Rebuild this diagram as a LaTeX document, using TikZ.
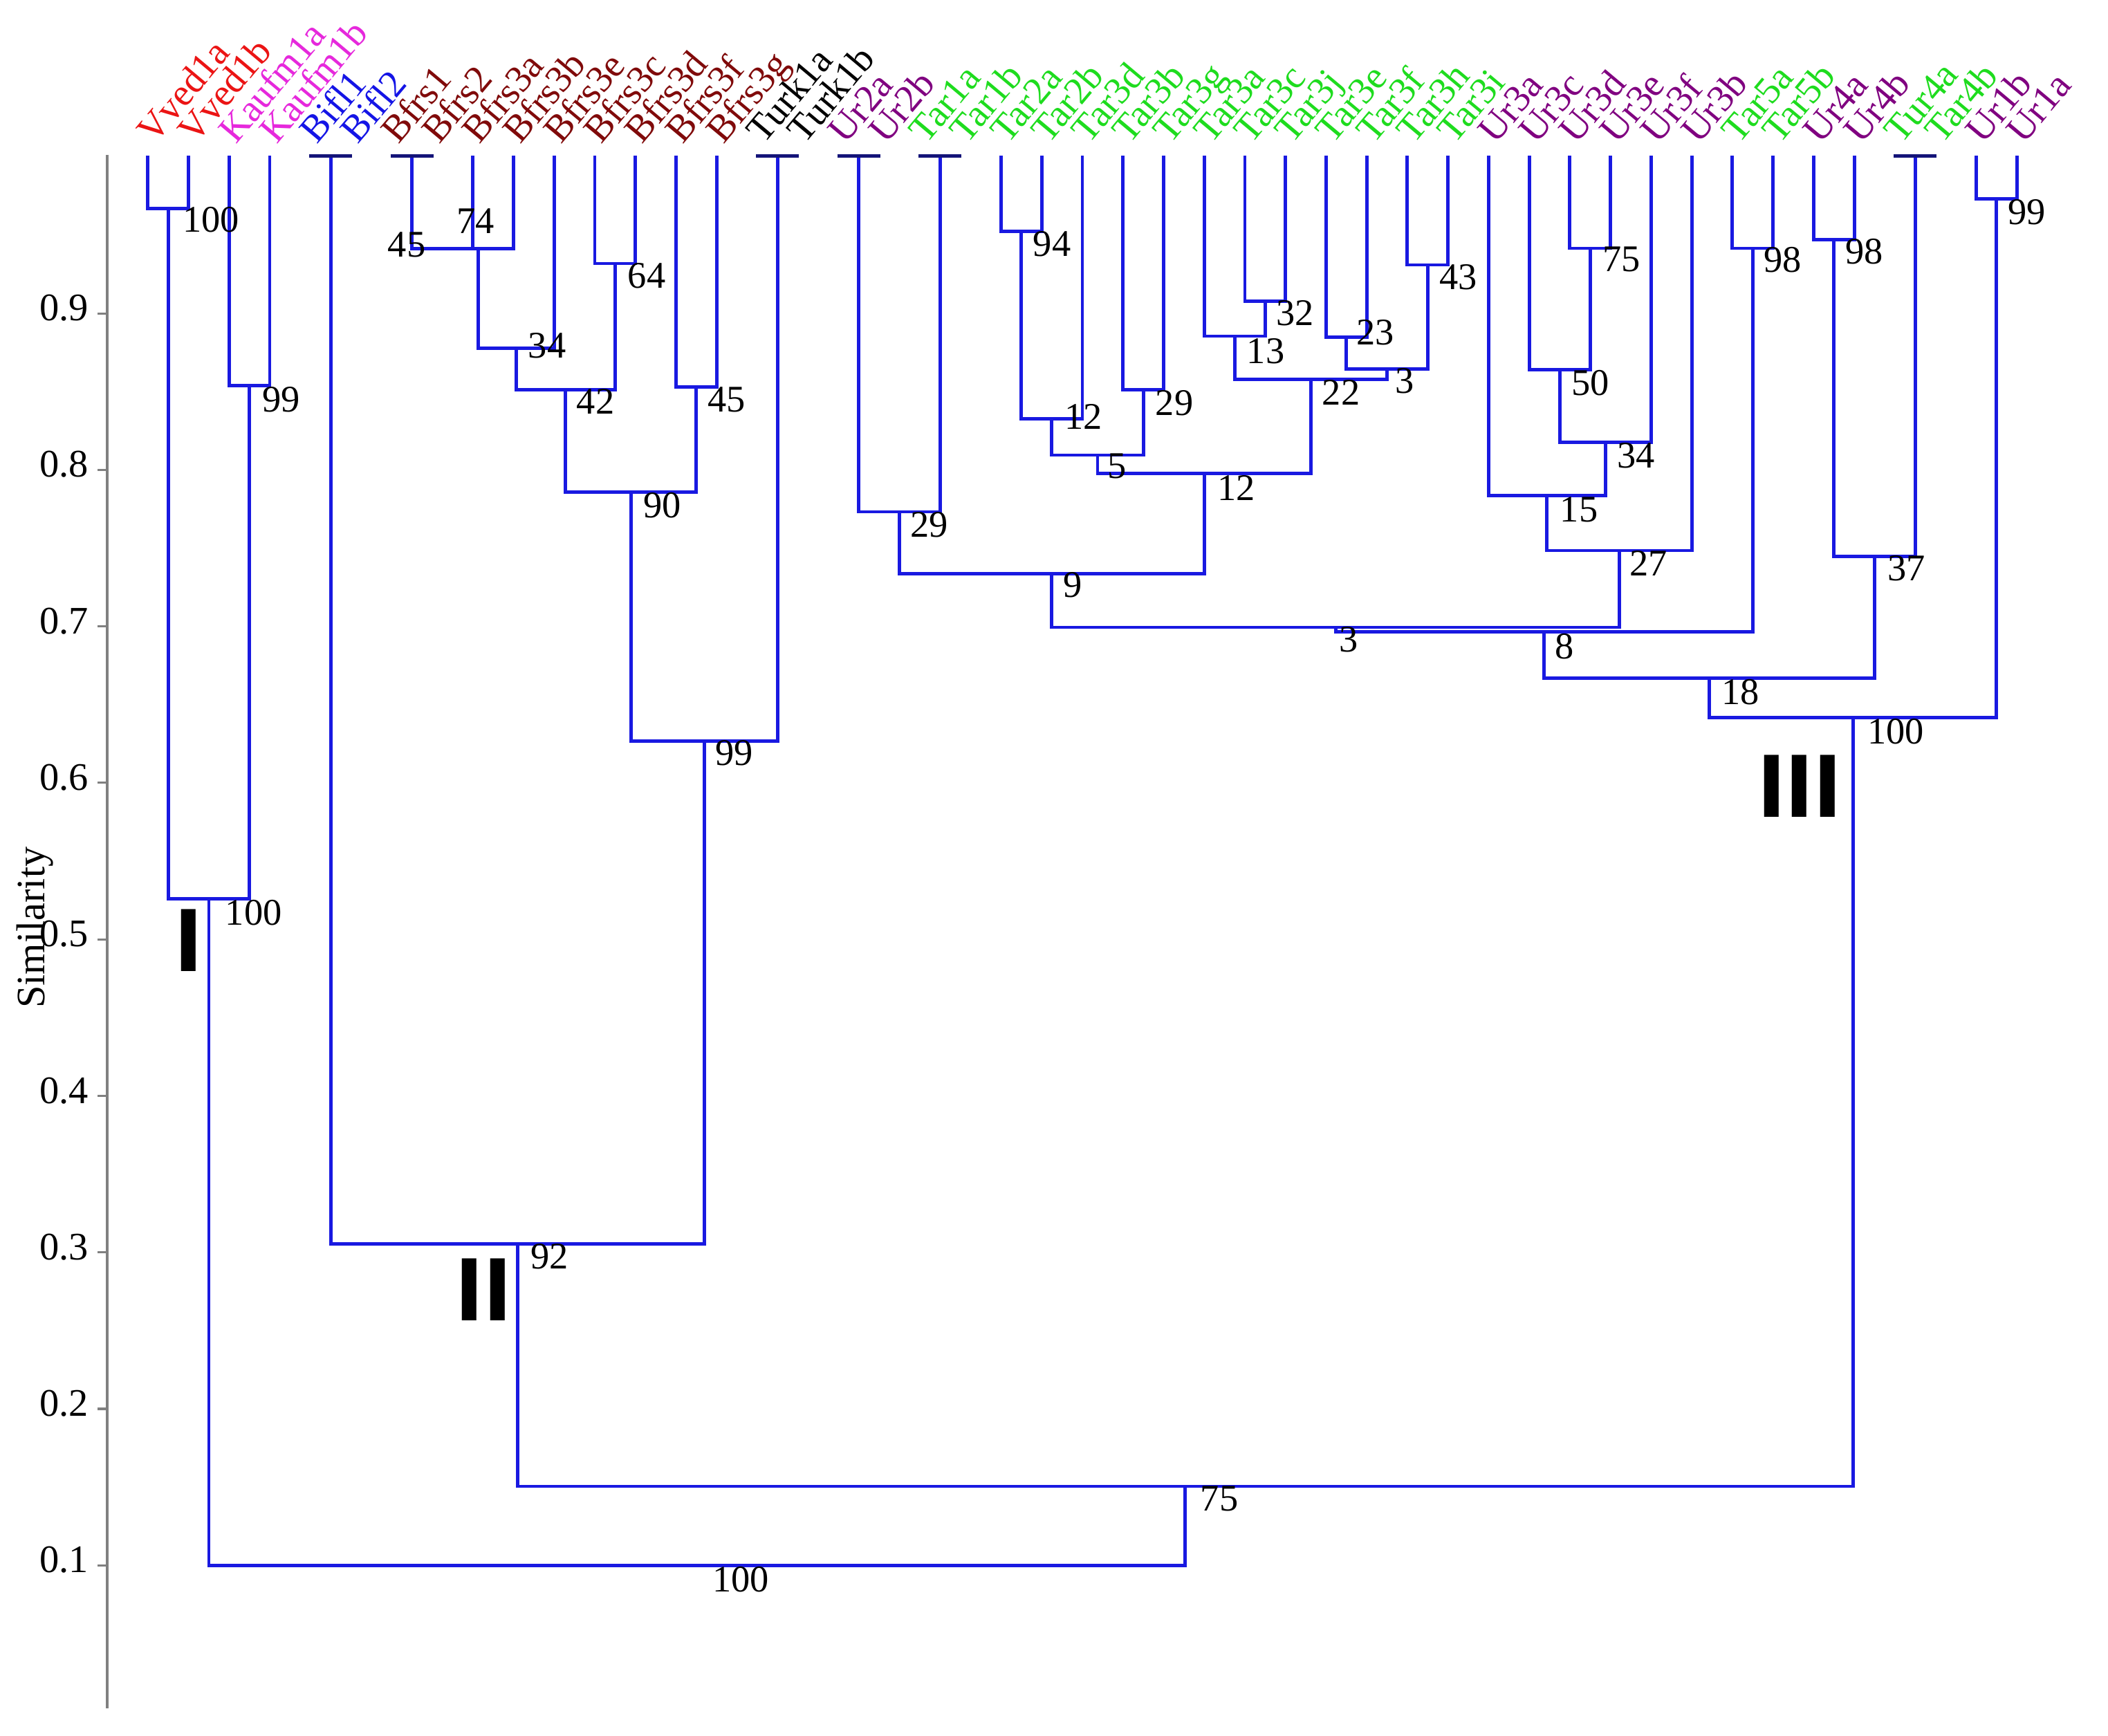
\documentclass[tikz,border=0pt]{standalone}
\usepackage{fontspec}
\setmainfont{Liberation Serif}
\newfontfamily\romfont{Liberation Sans}
\usetikzlibrary{calc}
\definecolor{edgeblue}{RGB}{25,25,225}
\definecolor{tnavy}{RGB}{20,20,120}
\definecolor{cVved}{RGB}{235,20,20}
\definecolor{cKauf}{RGB}{230,40,220}
\definecolor{cBifl}{RGB}{20,20,230}
\definecolor{cBfrs}{RGB}{128,10,10}
\definecolor{cTurk}{RGB}{0,0,0}
\definecolor{cUr}{RGB}{128,0,128}
\definecolor{cTar}{RGB}{30,220,30}
\definecolor{axisgray}{RGB}{128,128,128}
\begin{document}
\begin{tikzpicture}[x=1pt,y=-1pt,
  edge/.style={draw=edgeblue,line width=2.5pt},
  tbar/.style={draw=tnavy,line width=2.5pt},
  axisline/.style={draw=axisgray,line width=2.4pt},
  tickmark/.style={draw=axisgray,line width=1.6pt},
  leaflab/.style={rotate=50,anchor=base west,inner sep=0pt,font=\fontsize{28.5}{28.5}\selectfont},
  num/.style={inner sep=0pt,font=\fontsize{28}{28}\selectfont},
  ticklab/.style={inner sep=0pt,anchor=east,font=\fontsize{29}{29}\selectfont},
  roman/.style={inner sep=0pt,font=\romfont\bfseries\fontsize{67}{67}\selectfont,xscale=1.12},
]
\fill[white] (0,0) rectangle (1568,1291);
\useasboundingbox (0,0) rectangle (1568,1291);

% axis
\coordinate (axtop) at (79.7,115);
\coordinate (axbot) at (79.7,1270.6);
\draw[axisline] (axtop) -- (axbot);
\foreach \i/\y in {1/1164.3,2/1047.9,3/931.5,4/815.1,5/698.7,6/582.3,7/465.9,8/349.5,9/233.1} {
  \coordinate (tick\i) at (79.7,\y);
  \coordinate (tickend\i) at (72.5,\y);
  \draw[tickmark] (tick\i) -- (tickend\i);
  \node[ticklab] (tl\i) at (66,\y-4) {0.\i};
}
\node[inner sep=0pt,rotate=90,font=\fontsize{30}{30}\selectfont] (ylab) at (26,690) {Similarity};

% leaf labels
\foreach \i/\n/\c in {0/Vved1a/cVved,1/Vved1b/cVved,2/Kaufm1a/cKauf,3/Kaufm1b/cKauf,4/Bifl1/cBifl,5/Bifl2/cBifl,6/Bfrs1/cBfrs,7/Bfrs2/cBfrs,8/Bfrs3a/cBfrs,9/Bfrs3b/cBfrs,10/Bfrs3e/cBfrs,11/Bfrs3c/cBfrs,12/Bfrs3d/cBfrs,13/Bfrs3f/cBfrs,14/Bfrs3g/cBfrs,15/Turk1a/cTurk,16/Turk1b/cTurk,17/Ur2a/cUr,18/Ur2b/cUr,19/Tar1a/cTar,20/Tar1b/cTar,21/Tar2a/cTar,22/Tar2b/cTar,23/Tar3d/cTar,24/Tar3b/cTar,25/Tar3g/cTar,26/Tar3a/cTar,27/Tar3c/cTar,28/Tar3j/cTar,29/Tar3e/cTar,30/Tar3f/cTar,31/Tar3h/cTar,32/Tar3i/cTar,33/Ur3a/cUr,34/Ur3c/cUr,35/Ur3d/cUr,36/Ur3e/cUr,37/Ur3f/cUr,38/Ur3b/cUr,39/Tar5a/cTar,40/Tar5b/cTar,41/Ur4a/cUr,42/Ur4b/cUr,43/Tur4a/cTar,44/Tar4b/cTar,45/Ur1b/cUr,46/Ur1a/cUr} {
  \node[leaflab,text=\c] (lab\i) at ({115+30.22*\i},108) {\n};
}

% leaf tops
\coordinate (v0) at (110.00,116);
\coordinate (v1) at (140.22,116);
\coordinate (v2) at (170.44,116);
\coordinate (v3) at (200.66,116);
\coordinate (Tbifl) at (245.99,116);
\coordinate (Tbfrs) at (306.43,116);
\coordinate (v8) at (351.76,116);
\coordinate (v9) at (381.98,116);
\coordinate (v10) at (412.20,116);
\coordinate (v11) at (442.42,116);
\coordinate (v12) at (472.64,116);
\coordinate (v13) at (502.86,116);
\coordinate (v14) at (533.08,116);
\coordinate (Tturk) at (578.41,116);
\coordinate (Tur2) at (638.85,116);
\coordinate (Ttar1) at (699.29,116);
\coordinate (v21) at (744.62,116);
\coordinate (v22) at (774.84,116);
\coordinate (v23) at (805.06,116);
\coordinate (v24) at (835.28,116);
\coordinate (v25) at (865.50,116);
\coordinate (v26) at (895.72,116);
\coordinate (v27) at (925.94,116);
\coordinate (v28) at (956.16,116);
\coordinate (v29) at (986.38,116);
\coordinate (v30) at (1016.60,116);
\coordinate (v31) at (1046.82,116);
\coordinate (v32) at (1077.04,116);
\coordinate (v33) at (1107.26,116);
\coordinate (v34) at (1137.48,116);
\coordinate (v35) at (1167.70,116);
\coordinate (v36) at (1197.92,116);
\coordinate (v37) at (1228.14,116);
\coordinate (v38) at (1258.36,116);
\coordinate (v39) at (1288.58,116);
\coordinate (v40) at (1318.80,116);
\coordinate (v41) at (1349.02,116);
\coordinate (v42) at (1379.24,116);
\coordinate (Ttar4) at (1424.57,116);
\coordinate (v45) at (1469.90,116);
\coordinate (v46) at (1500.12,116);

% internal nodes
\coordinate (N1) at (125.11,155);
\coordinate (N2) at (185.55,287);
\coordinate (N3) at (155.33,668.5);
\coordinate (B2a) at (329.10,185);
\coordinate (B2) at (355.54,185);
\coordinate (B3) at (383.87,259);
\coordinate (B4) at (457.53,196);
\coordinate (B5) at (420.70,289.7);
\coordinate (B6) at (517.97,288);
\coordinate (B7) at (469.34,366);
\coordinate (B8) at (523.87,551);
\coordinate (B9) at (384.93,925);
\coordinate (C1) at (669.07,380.7);
\coordinate (C2) at (759.73,172);
\coordinate (C3) at (782.40,311.7);
\coordinate (C4) at (850.39,290);
\coordinate (C5) at (816.39,338.5);
\coordinate (C6) at (941.05,224);
\coordinate (C7) at (918.38,250);
\coordinate (C8) at (1001.49,251);
\coordinate (C9) at (1061.93,197);
\coordinate (C10) at (1031.71,274.5);
\coordinate (C11) at (975.05,282);
\coordinate (C12) at (895.72,352);
\coordinate (C13) at (782.40,426.5);
\coordinate (D1) at (1182.81,184.7);
\coordinate (D2) at (1160.14,275);
\coordinate (D3) at (1194.14,328.8);
\coordinate (D4) at (1150.70,368.7);
\coordinate (D5) at (1204.53,409.5);
\coordinate (D6) at (993.46,466.6);
\coordinate (D8) at (1303.69,184.7);
\coordinate (D7) at (1148.58,470);
\coordinate (D9) at (1364.13,178.2);
\coordinate (D10) at (1394.35,414);
\coordinate (D11) at (1271.46,504.5);
\coordinate (D12) at (1485.01,148);
\coordinate (D13) at (1378.24,533.5);
\coordinate (B10) at (881.58,1105.5);
\coordinate (Root) at (518.46,1164.3);

% edges
\draw[edge] (v0) |- (N1); \draw[edge] (v1) |- (N1);
\draw[edge] (v2) |- (N2); \draw[edge] (v3) |- (N2);
\draw[edge] (N1) |- (N3); \draw[edge] (N2) |- (N3);
\draw[edge] (Tbfrs) |- (B2a); \draw[edge] (v8) |- (B2a);
\draw[edge] (B2a) |- (B2); \draw[edge] (v9) |- (B2);
\draw[edge] (B2) |- (B3); \draw[edge] (v10) |- (B3);
\draw[edge] (v11) |- (B4); \draw[edge] (v12) |- (B4);
\draw[edge] (B3) |- (B5); \draw[edge] (B4) |- (B5);
\draw[edge] (v13) |- (B6); \draw[edge] (v14) |- (B6);
\draw[edge] (B5) |- (B7); \draw[edge] (B6) |- (B7);
\draw[edge] (B7) |- (B8); \draw[edge] (Tturk) |- (B8);
\draw[edge] (Tbifl) |- (B9); \draw[edge] (B8) |- (B9);
\draw[edge] (Tur2) |- (C1); \draw[edge] (Ttar1) |- (C1);
\draw[edge] (v21) |- (C2); \draw[edge] (v22) |- (C2);
\draw[edge] (C2) |- (C3); \draw[edge] (v23) |- (C3);
\draw[edge] (v24) |- (C4); \draw[edge] (v25) |- (C4);
\draw[edge] (C3) |- (C5); \draw[edge] (C4) |- (C5);
\draw[edge] (v27) |- (C6); \draw[edge] (v28) |- (C6);
\draw[edge] (v26) |- (C7); \draw[edge] (C6) |- (C7);
\draw[edge] (v29) |- (C8); \draw[edge] (v30) |- (C8);
\draw[edge] (v31) |- (C9); \draw[edge] (v32) |- (C9);
\draw[edge] (C8) |- (C10); \draw[edge] (C9) |- (C10);
\draw[edge] (C7) |- (C11); \draw[edge] (C10) |- (C11);
\draw[edge] (C5) |- (C12); \draw[edge] (C11) |- (C12);
\draw[edge] (C1) |- (C13); \draw[edge] (C12) |- (C13);
\draw[edge] (v35) |- (D1); \draw[edge] (v36) |- (D1);
\draw[edge] (v34) |- (D2); \draw[edge] (D1) |- (D2);
\draw[edge] (D2) |- (D3); \draw[edge] (v37) |- (D3);
\draw[edge] (v33) |- (D4); \draw[edge] (D3) |- (D4);
\draw[edge] (D4) |- (D5); \draw[edge] (v38) |- (D5);
\draw[edge] (C13) |- (D6); \draw[edge] (D5) |- (D6);
\draw[edge] (v39) |- (D8); \draw[edge] (v40) |- (D8);
\draw[edge] (D6) |- (D7); \draw[edge] (D8) |- (D7);
\draw[edge] (v41) |- (D9); \draw[edge] (v42) |- (D9);
\draw[edge] (D9) |- (D10); \draw[edge] (Ttar4) |- (D10);
\draw[edge] (D7) |- (D11); \draw[edge] (D10) |- (D11);
\draw[edge] (v45) |- (D12); \draw[edge] (v46) |- (D12);
\draw[edge] (D11) |- (D13); \draw[edge] (D12) |- (D13);
\draw[edge] (B9) |- (B10); \draw[edge] (D13) |- (B10);
\draw[edge] (N3) |- (Root); \draw[edge] (B10) |- (Root);

% T bars for merged pairs
\foreach \t in {Tbifl,Tbfrs,Tturk,Tur2,Ttar1,Ttar4} {
  \draw[tbar] ($(\t)+(-16,0)$) -- ($(\t)+(16,0)$);
}

% bootstrap values
\node[num] (kN1) at (157,163.5) {100};
\node[num] (kN2) at (209.3,297) {99};
\node[num] (kN3) at (188.6,679) {100};
\node[num] (kB2a) at (302.5,182) {45};
\node[num] (kB2) at (353.7,164.5) {74};
\node[num] (kB3) at (407,257) {34};
\node[num] (kB4) at (481,205) {64};
\node[num] (kB5) at (443,298.5) {42};
\node[num] (kB6) at (540.6,297.5) {45};
\node[num] (kB7) at (492.7,376) {90};
\node[num] (kB8) at (546,560) {99};
\node[num] (kB9) at (408.6,934.4) {92};
\node[num] (kB10) at (907,1114.5) {75};
\node[num] (kRoot) at (551,1175) {100};
\node[num] (kC1) at (691,390.5) {29};
\node[num] (kC2) at (782.5,181.5) {94};
\node[num] (kC3) at (806,309.7) {12};
\node[num] (kC4) at (873.5,300) {29};
\node[num] (kC5) at (831,346.5) {5};
\node[num] (kC6) at (963.5,233) {32};
\node[num] (kC7) at (941.5,261) {13};
\node[num] (kC8) at (1023,247.5) {23};
\node[num] (kC9) at (1084.7,206) {43};
\node[num] (kC10) at (1045,283.5) {3};
\node[num] (kC11) at (997.5,292) {22};
\node[num] (kC12) at (919.5,363) {12};
\node[num] (kC13) at (797.7,435) {9};
\node[num] (kD6) at (1003,475.5) {3};
\node[num] (kD1) at (1206,193) {75};
\node[num] (kD2) at (1183,285) {50};
\node[num] (kD3) at (1217,339) {34};
\node[num] (kD4) at (1174.5,379) {15};
\node[num] (kD5) at (1226,419) {27};
\node[num] (kD7) at (1163.5,481) {8};
\node[num] (kD8) at (1326,193) {98};
\node[num] (kD9) at (1386.5,187) {98};
\node[num] (kD10) at (1418,422.5) {37};
\node[num] (kD11) at (1294.7,515) {18};
\node[num] (kD12) at (1507.6,158) {99};
\node[num] (kD13) at (1410,544) {100};

% cluster numerals
\node[roman] (rI) at (140.2,699.3) {I};
\node[roman] (rII) at (359.8,959.5) {II};
\node[roman] (rIII) at (1338.5,584.7) {III};
\end{tikzpicture}
\end{document}
